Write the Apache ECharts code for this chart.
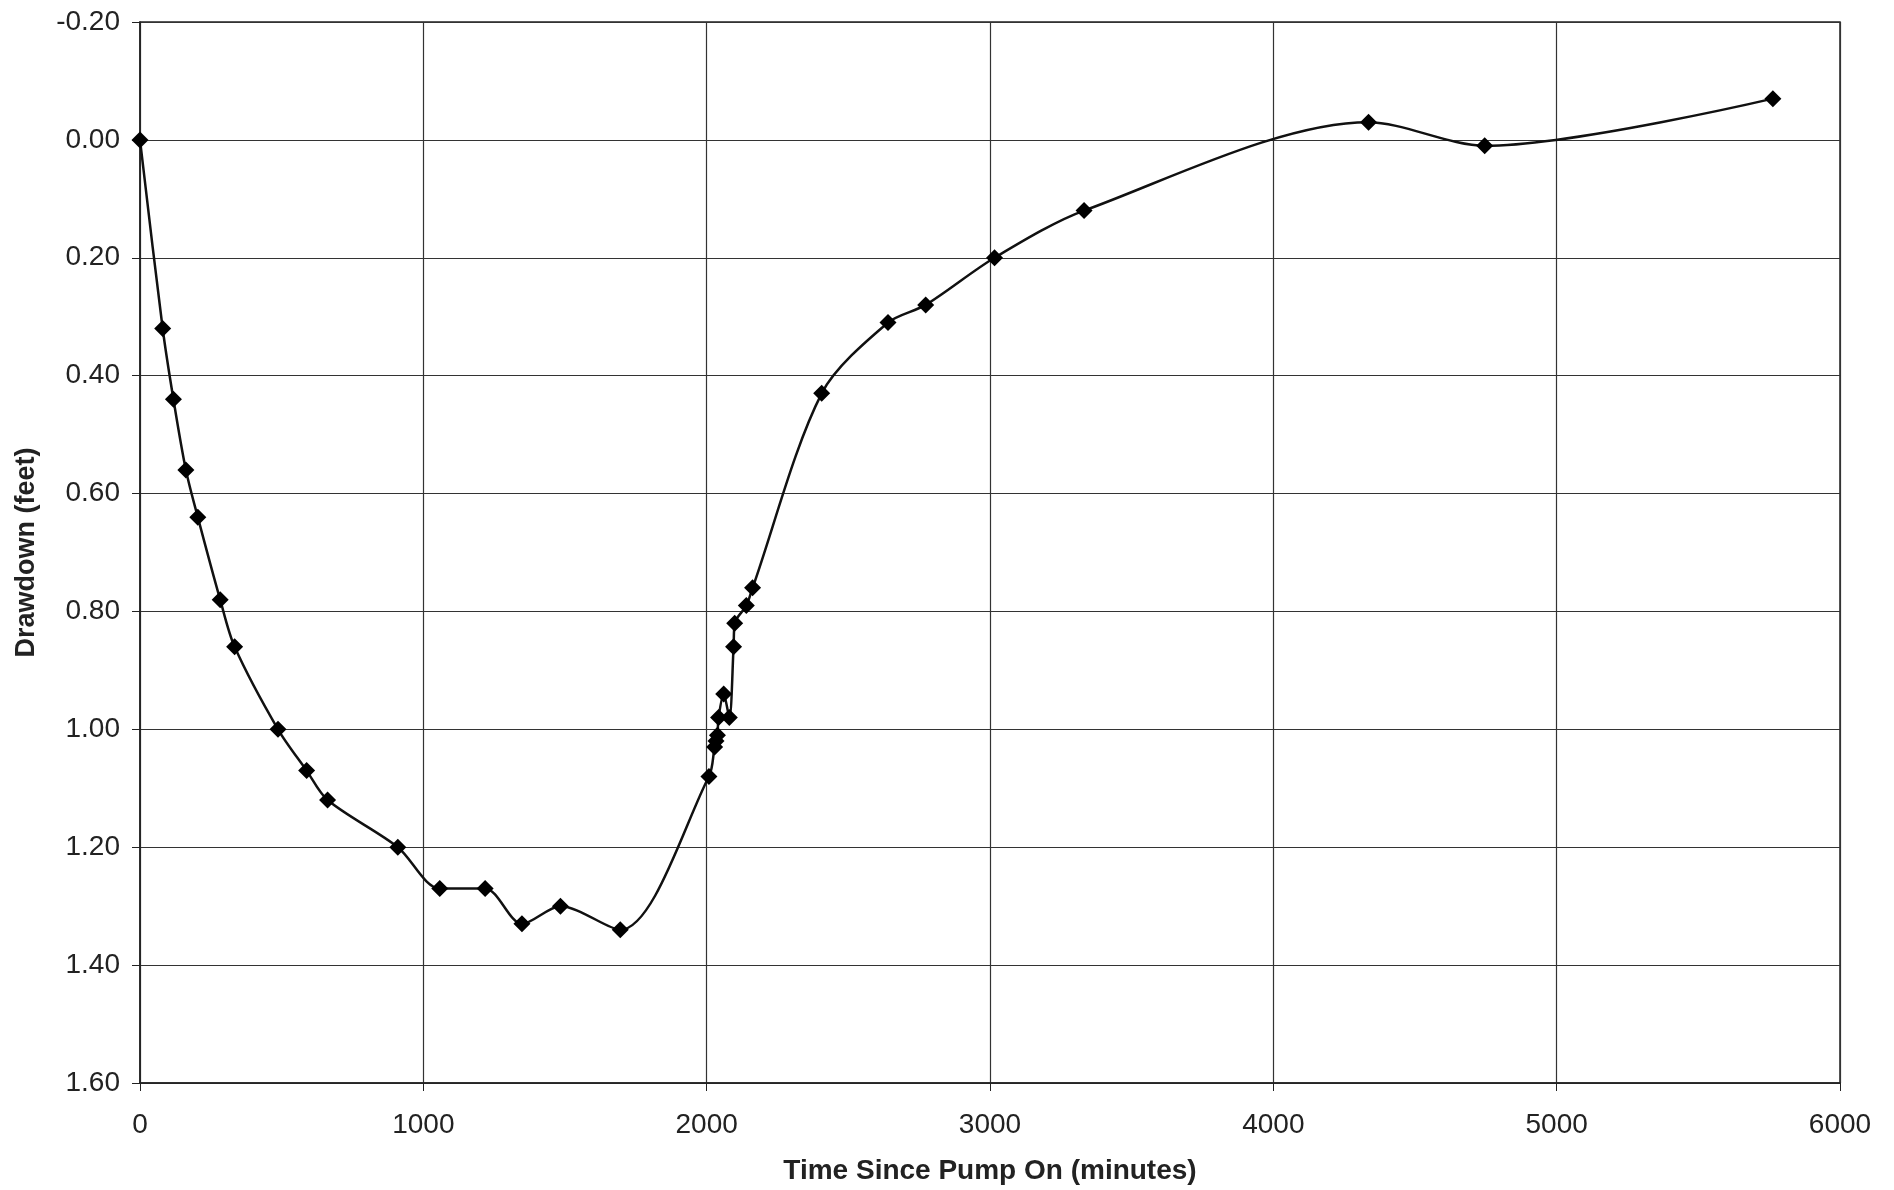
<!DOCTYPE html>
<html>
<head>
<meta charset="utf-8">
<script src="https://cdn.jsdelivr.net/npm/echarts@6/dist/echarts.min.js"></script>
<style>
html,body{margin:0;padding:0;background:#fff;}
#chart{width:1894px;height:1190px;}
</style>
</head>
<body>
<div id="chart"></div>
<script>
// Time since pump on (minutes)
var timeMinutes = [0, 80, 118, 162, 204, 283, 334, 487, 588, 662, 910, 1058, 1218, 1348, 1484, 1695, 2008, 2028, 2033, 2038, 2042, 2060, 2080, 2095, 2099, 2140, 2162, 2406, 2640, 2773, 3016, 3332, 4336, 4746, 5763];
// Drawdown (feet)
var drawdownFeet = [0.00, 0.32, 0.44, 0.56, 0.64, 0.78, 0.86, 1.00, 1.07, 1.12, 1.20, 1.27, 1.27, 1.33, 1.30, 1.34, 1.08, 1.03, 1.02, 1.01, 0.98, 0.94, 0.98, 0.86, 0.82, 0.79, 0.76, 0.43, 0.31, 0.28, 0.20, 0.12, -0.03, 0.01, -0.07];

var xTitle = 'Time Since Pump On (minutes)';
var yTitle = 'Drawdown (feet)';

var points = timeMinutes.map(function (t, i) { return [t, drawdownFeet[i]]; });

var chart = echarts.init(document.getElementById('chart'), null, {renderer: 'canvas'});
var fontFam = 'Liberation Sans, Arial, sans-serif';
chart.setOption({
  backgroundColor: '#ffffff',
  animation: false,
  grid: {left: 140, right: 54, top: 22, bottom: 107, show: true, borderColor: '#222', borderWidth: 1.5, backgroundColor: 'transparent'},
  xAxis: {
    type: 'value', min: 0, max: 6000, interval: 1000,
    name: xTitle, nameLocation: 'middle', nameGap: 74,
    nameTextStyle: {fontFamily: fontFam, fontWeight: 'bold', fontSize: 28, color: '#222'},
    axisLine: {show: true, onZero: false, lineStyle: {color: '#222', width: 1.5}},
    axisTick: {show: true, length: 8, lineStyle: {color: '#222'}},
    axisLabel: {fontFamily: fontFam, fontSize: 28, color: '#222', margin: 28,
      formatter: function (v) { return String(v); }},
    splitLine: {show: true, lineStyle: {color: '#333', width: 1.2}}
  },
  yAxis: {
    type: 'value', inverse: true, min: -0.2, max: 1.6, interval: 0.2,
    name: yTitle, nameLocation: 'middle', nameGap: 100,
    nameTextStyle: {fontFamily: fontFam, fontWeight: 'bold', fontSize: 27, color: '#222'},
    axisLine: {show: true, onZero: false, lineStyle: {color: '#222', width: 1.5}},
    axisTick: {show: true, length: 8, lineStyle: {color: '#222'}},
    axisLabel: {fontFamily: fontFam, fontSize: 28, color: '#222', margin: 20,
      formatter: function (v) { return v.toFixed(2); }},
    splitLine: {show: true, lineStyle: {color: '#333', width: 1.2}}
  },
  series: [{
    type: 'line',
    data: points,
    smooth: 0.3,
    symbol: 'diamond',
    symbolSize: 17,
    lineStyle: {color: '#111', width: 2.5},
    itemStyle: {color: '#000'},
    z: 5
  }]
});
</script>
</body>
</html>
